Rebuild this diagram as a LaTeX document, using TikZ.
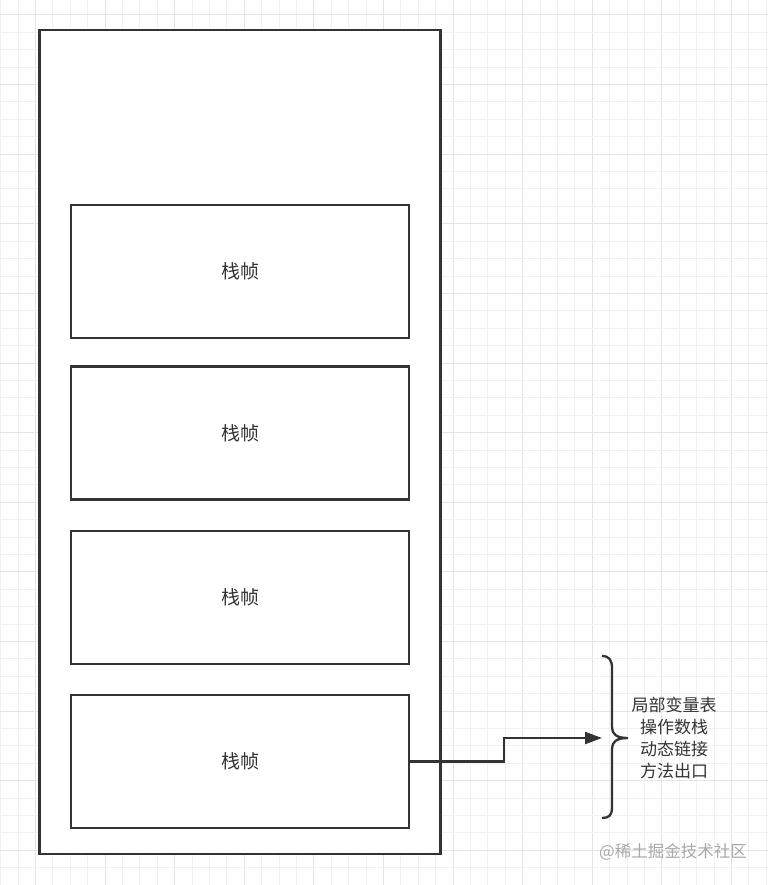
\documentclass[tikz,border=0pt]{standalone}
\usepackage{fontspec}
\newfontfamily\cjk{Noto Sans CJK SC}
\usetikzlibrary{arrows.meta}
\definecolor{gridminor}{HTML}{F1F1F1}
\definecolor{gridmajor}{HTML}{E4E4E4}
\definecolor{ink}{HTML}{333333}
\definecolor{wm}{HTML}{A8A8A8}
\tikzset{
  frame/.style={draw=ink, line width=2.3pt, fill=white},
  framebox/.style={draw=ink, line width=2.3pt, fill=white, minimum width=338pt, minimum height=133pt, inner sep=0pt, font=\cjk\fontsize{19}{22}\selectfont, text=ink},
  conn/.style={draw=ink, line width=2.3pt, -{Triangle[length=17pt,width=12pt]}},
  brace/.style={draw=ink, line width=2.3pt},
  lbl/.style={font=\cjk\fontsize{17}{22}\selectfont, text=ink, align=center, inner sep=0pt},
  wmark/.style={font=\cjk\fontsize{16.5}{20}\selectfont, text=wm, inner sep=0pt, anchor=west}
}
\begin{document}
\begin{tikzpicture}[x=1pt,y=-1pt]
\useasboundingbox (0,0) rectangle (768,885);
\fill[white] (0,0) rectangle (768,885);
% grid
\foreach \k in {0,...,44} {
  \pgfmathsetmacro{\xx}{0.6+17.4*\k}
  \pgfmathtruncatemacro{\m}{mod(\k,4)}
  \ifnum\m=2
    \draw[gridmajor, line width=1pt] (\xx,0) -- (\xx,885);
  \else
    \draw[gridminor, line width=1pt] (\xx,0) -- (\xx,885);
  \fi
}
\foreach \k in {-1,...,50} {
  \pgfmathsetmacro{\yy}{15+17.4*\k}
  \pgfmathtruncatemacro{\m}{mod(\k+4,4)}
  \ifnum\m=0
    \draw[gridmajor, line width=1pt] (0,\yy) -- (768,\yy);
  \else
    \draw[gridminor, line width=1pt] (0,\yy) -- (768,\yy);
  \fi
}
% outer stack
\node[frame, minimum width=401pt, minimum height=824pt, inner sep=0pt] (stack) at (240,442) {};
% frames
\node[framebox] (b1) at (240,271.5) {栈帧};
\node[framebox] (b2) at (240,433) {栈帧};
\node[framebox] (b3) at (240,597.5) {栈帧};
\node[framebox] (b4) at (240,761.5) {栈帧};
% brace
\coordinate (btip) at (628,738);
\draw[brace] (602,656) .. controls (609,656) and (612,660) .. (612,668)
  -- (612,727) .. controls (612,734) and (616,738) .. (btip)
  .. controls (616,738) and (612,742) .. (612,749)
  -- (612,808) .. controls (612,815) and (609,818) .. (602,818);
\coordinate (aend) at (602,738);
\draw[conn] (b4.east) -- ++(94,0) |- (aend);
% label
\node[lbl] (info) at (674,738) {局部变量表\\操作数栈\\动态链接\\方法出口};
% watermark
\node[wmark] (wmk) at (599,852) {@稀土掘金技术社区};
\end{tikzpicture}
\end{document}
